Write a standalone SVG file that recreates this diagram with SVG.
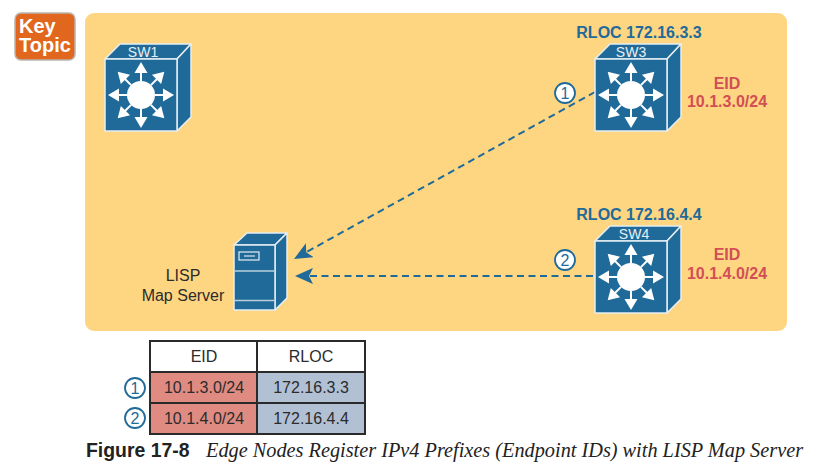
<svg xmlns="http://www.w3.org/2000/svg" xmlns:xlink="http://www.w3.org/1999/xlink" width="826" height="469" viewBox="0 0 826 469">
<style>
text{font-family:"Liberation Sans",Arial,sans-serif}
.body{fill:#1f6a99;stroke:#e6eef2;stroke-width:1.5;stroke-linejoin:round}
.wh{fill:#fff}
.swl{fill:#e6f0f4;font-size:14px;text-anchor:middle}
.rloc{fill:#1f6a99;font-size:16px;font-weight:bold;text-anchor:middle}
.eid{fill:#d24f55;font-size:16px;font-weight:bold;text-anchor:middle}
.dash{fill:none;stroke:#1f6a99;stroke-width:2;stroke-dasharray:7 4.5}
.num{fill:#fff;stroke:#1f6a99;stroke-width:1.8}
.numt{fill:#1f6a99;font-size:16px;text-anchor:middle}
.cell{stroke:#2a2a2a;stroke-width:2}
.tt{fill:#2b2b2b;font-size:16px;text-anchor:middle}
</style>
<defs>
<marker id="ah" markerUnits="userSpaceOnUse" markerWidth="20" markerHeight="18" refX="18" refY="8" orient="auto">
<path d="M18 8L0 0L4 8L0 16Z" fill="#1f6a99"/>
</marker>
<g id="ar">
<path class="wh" d="M35 37H37V28H35Z"/><path class="wh" d="M36 18L42.500 29H29.500Z"/>
</g>
<g id="sw">
<path class="body" d="M0 15L15 0H86L72 15Z"/>
<path class="body" d="M72 15L86 0V73L72 87Z"/>
<rect class="body" x="0" y="15" width="72" height="72"/>
<circle class="wh" cx="36" cy="51" r="14"/>
<use xlink:href="#ar"/>
<use xlink:href="#ar" transform="rotate(45 36 51)"/>
<use xlink:href="#ar" transform="rotate(90 36 51)"/>
<use xlink:href="#ar" transform="rotate(135 36 51)"/>
<use xlink:href="#ar" transform="rotate(180 36 51)"/>
<use xlink:href="#ar" transform="rotate(225 36 51)"/>
<use xlink:href="#ar" transform="rotate(270 36 51)"/>
<use xlink:href="#ar" transform="rotate(315 36 51)"/>
</g>
</defs>
<rect x="0" y="0" width="826" height="469" fill="#fff"/>
<rect x="85" y="13" width="702" height="318" rx="9" fill="#fed682"/>
<g id="key-topic">
<rect x="15" y="13" width="60" height="47" rx="6" fill="#e0671d" stroke="#b9b4ae" stroke-width="1.500"/>
<text fill="#fff" font-size="20" font-weight="bold"><tspan x="19" y="33">Key</tspan><tspan x="19" y="52">Topic</tspan></text>
</g>
<g id="connectors">
<path class="dash" d="M595 92L294 259" marker-end="url(#ah)"/>
<path class="dash" d="M593 276H295" marker-end="url(#ah)"/>
</g>
<g id="sw1">
<use xlink:href="#sw" x="105" y="44"/>
<text class="swl" x="143" y="57">SW1</text>
</g>
<g id="sw3">
<use xlink:href="#sw" x="595" y="44"/>
<text class="swl" x="631" y="57">SW3</text>
<text class="rloc" x="639" y="38">RLOC 172.16.3.3</text>
<text class="eid" x="727" y="89">EID</text>
<text class="eid" x="727" y="107">10.1.3.0/24</text>
</g>
<g id="sw4">
<use xlink:href="#sw" x="595" y="226"/>
<text class="swl" x="634" y="239">SW4</text>
<text class="rloc" x="639" y="220">RLOC 172.16.4.4</text>
<text class="eid" x="727" y="260">EID</text>
<text class="eid" x="727" y="279">10.1.4.0/24</text>
</g>
<g id="map-server">
<path class="body" d="M234 245L247 233H287L275 245Z"/>
<path class="body" d="M275 245L287 233V298L275 310Z"/>
<rect class="body" x="234" y="245" width="41" height="65"/>
<path d="M234 271H275M234 300.500H275" stroke="#b9cfdc" stroke-width="1.500"/>
<rect x="239" y="252" width="20" height="8" fill="none" stroke="#e6eef2" stroke-width="1.200"/>
<path d="M244 256H255" stroke="#b9cfdc" stroke-width="1.500"/>
<text x="183" y="281" fill="#2b2b2b" font-size="16" text-anchor="middle">LISP</text>
<text x="183" y="301" fill="#2b2b2b" font-size="16" text-anchor="middle">Map Server</text>
</g>
<g id="step-1">
<circle class="num" cx="565" cy="93" r="10"/>
<text class="numt" x="565" y="98.500">1</text>
</g>
<g id="step-2">
<circle class="num" cx="565" cy="260" r="10"/>
<text class="numt" x="565" y="265.500">2</text>
</g>
<g id="table">
<rect class="cell" x="150" y="341" width="107" height="31" fill="#fff"/>
<rect class="cell" x="257" y="341" width="108" height="31" fill="#fff"/>
<rect class="cell" x="150" y="372" width="107" height="31" fill="#e08b82"/>
<rect class="cell" x="257" y="372" width="108" height="31" fill="#b2c0d4"/>
<rect class="cell" x="150" y="403" width="107" height="31" fill="#e08b82"/>
<rect class="cell" x="257" y="403" width="108" height="31" fill="#b2c0d4"/>
<text class="tt" x="204" y="362">EID</text>
<text class="tt" x="311" y="362">RLOC</text>
<text class="tt" x="204" y="393">10.1.3.0/24</text>
<text class="tt" x="311" y="393">172.16.3.3</text>
<text class="tt" x="204" y="424">10.1.4.0/24</text>
<text class="tt" x="311" y="424">172.16.4.4</text>
<circle cx="135" cy="388" r="10" fill="#fff" stroke="#1f6a99" stroke-width="1.800"/>
<text class="numt" x="135" y="393.500">1</text>
<circle cx="135" cy="418" r="10" fill="#fff" stroke="#1f6a99" stroke-width="1.800"/>
<text class="numt" x="135" y="423.500">2</text>
</g>
<g id="caption">
<text x="86" y="457" fill="#222" font-size="19.400" font-weight="bold">Figure 17-8</text>
<text x="206" y="457" fill="#222" font-size="20.300" font-style="italic" style="font-family:'Liberation Serif',serif">Edge Nodes Register IPv4 Prefixes (Endpoint IDs) with LISP Map Server</text>
</g>
</svg>
